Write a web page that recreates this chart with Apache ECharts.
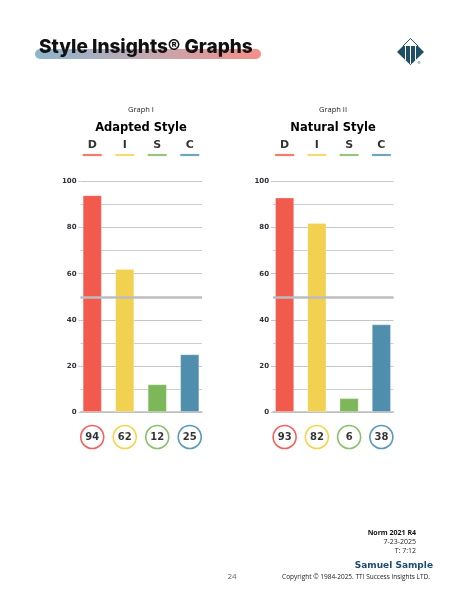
<!DOCTYPE html>
<html>
<head>
<meta charset="utf-8">
<title>Style Insights Graphs</title>
<script src="https://cdn.jsdelivr.net/npm/echarts@6/dist/echarts.min.js"></script>
<style>
  html, body { margin: 0; padding: 0; background: #fff; }
  #main { width: 464px; height: 602px; }
</style>
</head>
<body>
<div id="main"></div>
<script>
// DISC values
var styles = ['D', 'I', 'S', 'C'];
var adapted = [94, 62, 12, 25];
var natural = [93, 82, 6, 38];
var yTicks = [0, 20, 40, 60, 80, 100];
var midLine = 50;

var barColors = ['#f15a4d', '#f2d151', '#7cb85a', '#4f8ead'];
var ringColors = ['#ec3b35', '#f1c91e', '#6cb043', '#2f7ea6'];

var boldFont = 'DejaVu Sans';

var grids = [], xAxes = [], yAxes = [], series = [];

// one DISC graph = 4 grids: grid lines, bars, score rings, header letters
function addGraph(vals, lineLeft, lineW, barLeft, barW) {
  var top = 181.5, h = 230.5;
  var g = grids.length;

  grids.push({ left: lineLeft, width: lineW, top: top, height: h });
  grids.push({ left: barLeft, width: barW, top: top, height: h });
  grids.push({ left: barLeft, width: barW, top: 425, height: 24 });
  grids.push({ left: barLeft, width: barW, top: 154, height: 2 });

  // grid lines + y labels
  xAxes.push({
    gridIndex: g, type: 'category', data: styles,
    axisLabel: { show: false }, axisTick: { show: false },
    axisLine: { show: true, lineStyle: { color: '#bdbdbd', width: 1.5 } }
  });
  yAxes.push({
    gridIndex: g, type: 'value',
    min: yTicks[0], max: yTicks[yTicks.length - 1], interval: yTicks[1] - yTicks[0],
    axisLine: { show: false },
    axisTick: { show: true, length: 2, lineStyle: { color: '#c4c4c4' } },
    axisLabel: { fontFamily: boldFont, fontWeight: 'bold', fontSize: 7, color: '#30303a', margin: 4 },
    splitLine: { lineStyle: { color: '#c6c6c6', width: 1 } },
    minorTick: { show: false, splitNumber: 2 },
    minorSplitLine: { show: true, lineStyle: { color: '#cdcdcd', width: 1 } }
  });
  series.push({
    type: 'line', xAxisIndex: g, yAxisIndex: g, data: [], z: 5,
    markLine: {
      silent: true, symbol: ['none', 'none'], label: { show: false },
      lineStyle: { color: '#bcbcbc', width: 2.5, type: 'solid' },
      data: [{ yAxis: midLine }]
    }
  });

  // bars
  xAxes.push({ gridIndex: g + 1, type: 'category', data: styles, show: false });
  yAxes.push({ gridIndex: g + 1, type: 'value', min: yTicks[0], max: yTicks[yTicks.length - 1], show: false, splitLine: { show: false } });
  series.push({
    type: 'bar', xAxisIndex: g + 1, yAxisIndex: g + 1, barWidth: 19, z: 3,
    data: vals.map(function (v, i) {
      return { value: v, itemStyle: { color: barColors[i], borderColor: 'rgba(255,255,255,0.35)', borderWidth: 0.8 } };
    })
  });

  // score rings
  xAxes.push({ gridIndex: g + 2, type: 'category', data: styles, show: false });
  yAxes.push({ gridIndex: g + 2, type: 'value', min: -1, max: 1, show: false, splitLine: { show: false } });
  series.push({
    type: 'scatter', xAxisIndex: g + 2, yAxisIndex: g + 2, symbolSize: 23,
    data: vals.map(function (v, i) {
      return {
        value: [i, 0],
        itemStyle: { color: '#fff', borderColor: ringColors[i], borderWidth: 1.6 },
        label: { show: true, position: 'inside', formatter: String(v),
                 fontFamily: boldFont, fontWeight: 'bold', fontSize: 10, color: '#000' }
      };
    })
  });

  // header letters with coloured underline
  xAxes.push({ gridIndex: g + 3, type: 'category', data: styles, show: false });
  yAxes.push({ gridIndex: g + 3, type: 'value', min: -1, max: 1, show: false, splitLine: { show: false } });
  series.push({
    type: 'scatter', xAxisIndex: g + 3, yAxisIndex: g + 3, symbol: 'rect', symbolSize: [19, 2.2],
    data: styles.map(function (s, i) {
      return {
        value: [i, 0],
        itemStyle: { color: barColors[i] },
        label: { show: true, position: 'top', distance: 3, formatter: s,
                 fontFamily: boldFont, fontWeight: 'bold', fontSize: 11, color: '#000' }
      };
    })
  });
}

addGraph(adapted, 80.5, 121.5, 76, 130);
addGraph(natural, 273, 120.5, 268.5, 129);

var chart = echarts.init(document.getElementById('main'), null, { renderer: 'canvas' });

chart.setOption({
  animation: false,
  backgroundColor: '#fff',
  grid: grids,
  xAxis: xAxes,
  yAxis: yAxes,
  series: series,
  graphic: [
    // title band
    {
      type: 'rect', left: 35, top: 49, shape: { width: 226, height: 10, r: 5 },
      style: {
        fill: new echarts.graphic.LinearGradient(0, 0, 1, 0, [
          { offset: 0, color: '#8cb6cd' },
          { offset: 0.5, color: '#c3a8b1' },
          { offset: 1, color: '#f58f88' }
        ])
      }
    },
    {
      type: 'text', left: 39, top: 38,
      style: { text: 'Style Insights® Graphs', font: '800 19px Inter', fill: '#111' }
    },
    // logo
    {
      type: 'group', left: 397, top: 36,
      children: [
        { type: 'polyline', shape: { points: [[7, 9], [14.5, 1.5], [22, 9]] },
          style: { stroke: '#23566a', lineWidth: 1, fill: null } },
        { type: 'polygon', shape: { points: [[7, 9], [22, 9], [28, 15], [14.5, 28], [1, 15]] },
          style: { fill: '#1f4f62' } },
        { type: 'line', shape: { x1: 9.5, y1: 9, x2: 9.5, y2: 23 }, style: { stroke: '#fff', lineWidth: 1 } },
        { type: 'line', shape: { x1: 14.5, y1: 9, x2: 14.5, y2: 27 }, style: { stroke: '#fff', lineWidth: 1 } },
        { type: 'line', shape: { x1: 19.5, y1: 9, x2: 19.5, y2: 23 }, style: { stroke: '#fff', lineWidth: 1 } },
        { type: 'text', x: 21, y: 24, style: { text: '®', font: '4px DejaVu Sans', fill: '#1f4f62' } }
      ]
    },
    // graph headings
    { type: 'text', x: 141, y: 110, style: { text: 'Graph I', font: '7.5px "Open Sans"', fill: '#222', align: 'center', verticalAlign: 'middle' } },
    { type: 'text', x: 141, y: 128, style: { text: 'Adapted Style', font: 'bold 11.5px "DejaVu Sans"', fill: '#000', align: 'center', verticalAlign: 'middle' } },
    { type: 'text', x: 333, y: 110, style: { text: 'Graph II', font: '7.5px "Open Sans"', fill: '#222', align: 'center', verticalAlign: 'middle' } },
    { type: 'text', x: 333, y: 128, style: { text: 'Natural Style', font: 'bold 11.5px "DejaVu Sans"', fill: '#000', align: 'center', verticalAlign: 'middle' } },
    // footer
    { type: 'text', x: 416, y: 533, style: { text: 'Norm 2021 R4', font: 'bold 7px "Open Sans"', fill: '#111', align: 'right', verticalAlign: 'middle' } },
    { type: 'text', x: 416, y: 542, style: { text: '7-23-2025', font: '7px "Open Sans"', fill: '#222', align: 'right', verticalAlign: 'middle' } },
    { type: 'text', x: 416, y: 551, style: { text: 'T: 7:12', font: '7px "Open Sans"', fill: '#222', align: 'right', verticalAlign: 'middle' } },
    { type: 'text', x: 433, y: 566, style: { text: 'Samuel Sample', font: 'bold 9px "DejaVu Sans"', fill: '#1d4d6b', align: 'right', verticalAlign: 'middle' } },
    { type: 'text', x: 430, y: 577, style: { text: 'Copyright © 1984-2025. TTI Success Insights LTD.', font: '6.5px "Open Sans"', fill: '#222', align: 'right', verticalAlign: 'middle' } },
    { type: 'text', x: 232, y: 577, style: { text: '24', font: '8px "Open Sans"', fill: '#666', align: 'center', verticalAlign: 'middle' } }
  ]
});
</script>
</body>
</html>
